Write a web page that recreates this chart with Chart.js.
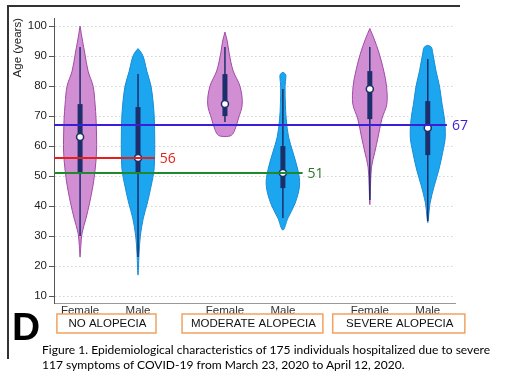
<!DOCTYPE html>
<html>
<head>
<meta charset="utf-8">
<script src="https://cdn.jsdelivr.net/npm/chart.js@4.4.1/dist/chart.umd.min.js"></script>
<style>
  body { margin: 0; background: #fff; }
  #wrap { position: relative; width: 509px; height: 375px; overflow: hidden; }
  canvas { position: absolute; left: 0; top: 0; }
  #frame { position: absolute; left: 7px; top: 5px; width: 451px; height: 352px;
           border-top: 2px solid #333; border-left: 2px solid #333; }
  #letter { position: absolute; left: 12px; top: 305px; line-height: 40px;
            font: bold 39px "Liberation Sans", Arial, sans-serif; color: #000; }
  .cap { position: absolute; left: 42px; white-space: nowrap; transform-origin: 0 0;
         font: 12px Lato, "Liberation Sans", sans-serif; line-height: 15px; color: #000; }
</style>
</head>
<body>
<div id="wrap">
  <div id="frame"></div>
  <canvas id="violinChart" width="509" height="375"></canvas>
  <div id="letter">D</div>
  <div class="cap" id="cap1" style="top:342px">Figure 1. Epidemiological characteristics of 175 individuals hospitalized due to severe</div>
  <div class="cap" id="cap2" style="top:357px">117 symptoms of COVID-19 from March 23, 2020 to April 12, 2020.</div>
</div>
<script>
// valores (idade em anos)
const groups = ['NO ALOPECIA', 'MODERATE ALOPECIA', 'SEVERE ALOPECIA'];
const sexes = ['Female', 'Male', 'Female', 'Male', 'Female', 'Male'];
const yTicks = [10, 15, 20, 25, 30, 35, 40, 45, 50, 55, 60, 65, 70, 75, 80, 85, 90, 95, 100];

// perfil de densidade de cada violino (idade -> meia largura relativa)
const violinAges = [
    [100, 95, 91, 85, 80, 74, 69, 63, 58, 52, 47, 41, 36, 31, 27, 23],
    [92.5, 91, 89, 85, 80, 74, 69, 63, 58, 52, 47, 41, 36, 30, 24, 17],
    [98, 95, 91, 85, 80, 74, 69, 65.5, 63.6, 63.2],
    [84.6, 84, 83, 80, 74, 69, 63, 58, 52, 47, 41, 36, 32],
    [99.2, 96, 91, 85, 80, 74, 69, 63, 58, 53, 47, 40.5],
    [93.6, 93, 91, 85, 80, 74, 69, 63, 58, 52, 47, 41, 36, 34.5]
];
const violinDensity = [
    [0, 2.5, 4.7, 8, 13, 15, 16, 16.5, 16.5, 15, 13, 9.5, 6, 2, 0.8, 0],
    [0, 3.5, 6, 8.8, 13, 15.3, 16.3, 16.7, 16.7, 16, 13.3, 9.3, 5.3, 2.3, 1, 0],
    [0, 2.3, 4.2, 8.3, 15, 17.3, 13.3, 10, 6.5, 0],
    [0, 2.5, 3, 2.2, 2.5, 3.3, 5.7, 10, 15, 16.7, 12.3, 5, 0],
    [0, 4, 9.3, 14, 16.7, 17, 12, 8.3, 5, 1.7, 0.7, 0],
    [0, 3.5, 5, 8.3, 11.7, 14.3, 16.7, 17.5, 15, 11, 6.7, 2.3, 0.7, 0]
];

const medians = [63, 56, 74, 51, 79, 66];
const q1 = [51, 51, 70, 46, 69, 57];
const q3 = [74, 73, 84, 60, 85, 75];
const whiskerLow = [30, 23, 68, 36, 42, 35];
const whiskerHigh = [93, 84, 93, 79, 93, 89];

const refValues = [67, 56, 51];
const refLabels = ['67', '56', '51'];

// layout (posições no eixo x)
const slots = [0, 1, 2.5, 3.5, 5, 6];
const groupSpans = [[-0.4, 1.31], [1.76, 4.19], [4.36, 6.64]];
const refEnds = [6.33, 1.29, 3.84];
const X_MIN = -0.45, X_MAX = 6.47;
const DENS_SCALE = 1 / 58;

const refColors = ['#3a1fd6', '#e3201b', '#1f8a2c'];
const refTextColors = ['#3a1fd6', '#e3201b', '#2a7a2a'];
const fillColors = ['#d18ed3', '#1ba6ef'];
const lineColors = ['#a04aa8', '#1a8cd4'];
const navy = '#1d2f6b';

const font = '"Liberation Sans", Arial, sans-serif';

function violinPoints(i) {
    const c = slots[i], ages = violinAges[i], d = violinDensity[i];
    const pts = ages.map((a, k) => ({ x: c + d[k] * DENS_SCALE, y: a }));
    for (let k = ages.length - 2; k >= 0; k--) pts.push({ x: c - d[k] * DENS_SCALE, y: ages[k] });
    return pts;
}

const datasets = [];
slots.forEach((c, i) => {
    const s = i % 2;
    datasets.push({
        data: violinPoints(i), backgroundColor: fillColors[s], borderColor: lineColors[s],
        borderWidth: 1, fill: 'shape', tension: 0.35, pointRadius: 0, order: 5
    });
    datasets.push({
        data: [{ x: c, y: whiskerLow[i] }, { x: c, y: whiskerHigh[i] }],
        borderColor: navy, borderWidth: 1.5, pointRadius: 0, order: 4
    });
    datasets.push({
        data: [{ x: c, y: q1[i] }, { x: c, y: q3[i] }],
        borderColor: navy, borderWidth: 5, borderCapStyle: 'butt', pointRadius: 0, order: 3
    });
});
datasets.push({
    data: medians.map((m, i) => ({ x: slots[i], y: m })),
    showLine: false, pointRadius: 3.5, pointBackgroundColor: '#fff',
    pointBorderColor: navy, pointBorderWidth: 1.5, order: 2
});
refValues.forEach((v, i) => {
    datasets.push({
        data: [{ x: X_MIN, y: v }, { x: refEnds[i], y: v }],
        borderColor: refColors[i], borderWidth: 2, pointRadius: 0, order: 1
    });
});

const extras = {
    id: 'extras',
    afterDatasetsDraw(chart) {
        const { ctx, scales: { x, y } } = chart;
        ctx.save();
        ctx.font = '14px "Open Sans", sans-serif';
        ctx.textBaseline = 'middle';
        refValues.forEach((v, i) => {
            ctx.fillStyle = refTextColors[i];
            ctx.fillText(refLabels[i], x.getPixelForValue(refEnds[i]) + 5, y.getPixelForValue(v) + 1);
        });
        ctx.restore();
    },
    afterDraw(chart) {
        const { ctx, scales: { x } } = chart;
        ctx.save();
        ctx.font = '11.5px ' + font;
        ctx.textAlign = 'center';
        ctx.textBaseline = 'middle';
        groups.forEach((g, i) => {
            const x0 = x.getPixelForValue(groupSpans[i][0]);
            const x1 = x.getPixelForValue(groupSpans[i][1]);
            ctx.strokeStyle = '#f1a261';
            ctx.lineWidth = 1.5;
            ctx.strokeRect(x0, 314, x1 - x0, 19);
            ctx.fillStyle = '#111';
            ctx.fillText(g, (x0 + x1) / 2 + 1, 324);
        });
        ctx.restore();
    }
};

new Chart(document.getElementById('violinChart'), {
    type: 'line',
    data: { datasets },
    options: {
        responsive: false,
        animation: false,
        layout: { padding: { left: 0, top: 18, right: 54, bottom: 58 } },
        plugins: { legend: { display: false }, tooltip: { enabled: false } },
        scales: {
            x: {
                type: 'linear', min: X_MIN, max: X_MAX,
                afterBuildTicks: s => { s.ticks = slots.map(v => ({ value: v })); },
                afterFit: s => { s.height = 14; },
                grid: { display: false, drawTicks: false },
                border: { color: '#999', width: 1 },
                ticks: {
                    autoSkip: false, maxRotation: 0, padding: 1, color: '#333',
                    font: { family: font, size: 11.5 },
                    callback: (v, i) => sexes[i]
                }
            },
            y: {
                min: 7.7, max: 102.7,
                afterBuildTicks: s => { s.ticks = yTicks.map(v => ({ value: v })); },
                afterFit: s => { s.width = 54; },
                grid: { color: '#d4d4d4', tickColor: '#555', tickLength: 5, tickBorderDash: [] },
                border: { color: '#555', width: 1, dash: [1.5, 2.5] },
                ticks: { padding: 2, color: '#222', font: { family: font, size: 11.5 } },
                title: {
                    display: true, text: 'Age (years)', align: 'end', color: '#222',
                    font: { family: font, size: 11.5 }, padding: { top: 11, bottom: 0 }
                }
            }
        }
    },
    plugins: [extras]
});

// ajusta a largura da legenda da figura
const c1 = document.getElementById('cap1'), c2 = document.getElementById('cap2');
const k = 448 / c1.getBoundingClientRect().width;
[c1, c2].forEach(el => { el.style.transform = 'scaleX(' + k + ')'; });
</script>
</body>
</html>
